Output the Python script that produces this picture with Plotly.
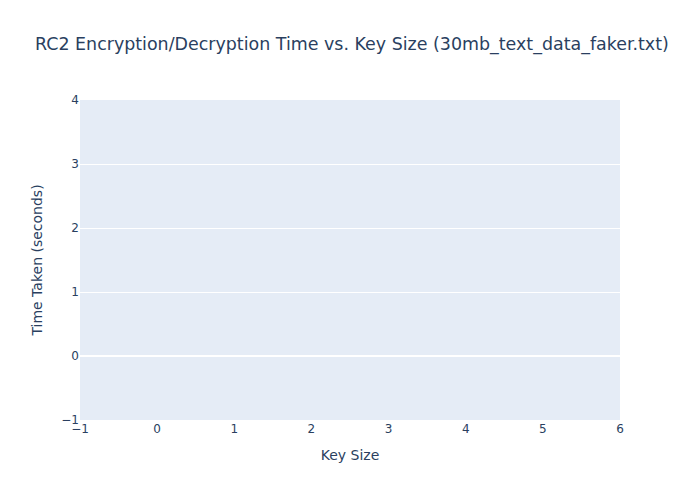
import plotly.graph_objects as go

key_sizes = []
encryption_times = []
decryption_times = []

fig = go.Figure()
fig.add_trace(go.Scatter(x=key_sizes, y=encryption_times, mode="lines+markers",
                         name="Encryption Time", showlegend=False))
fig.add_trace(go.Scatter(x=key_sizes, y=decryption_times, mode="lines+markers",
                         name="Decryption Time", showlegend=False))

fig.update_layout(
    title=dict(text="RC2 Encryption/Decryption Time vs. Key Size (30mb_text_data_faker.txt)",
               font=dict(size=17.45)),
    xaxis_title="Key Size",
    yaxis_title="Time Taken (seconds)",
    font=dict(family="DejaVu Sans"),
    width=700,
    height=500,
)
fig.update_xaxes(showgrid=False, zeroline=False)

fig.write_html("out.html")
